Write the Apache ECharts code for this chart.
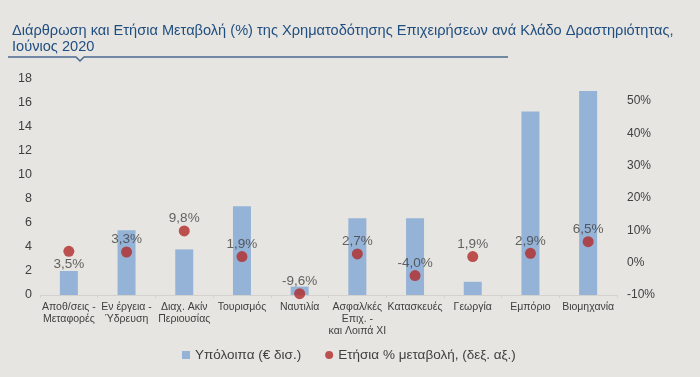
<!DOCTYPE html>
<html><head><meta charset="utf-8">
<script src="https://cdn.jsdelivr.net/npm/echarts@6/dist/echarts.min.js"></script>
<style>html,body{margin:0;padding:0;background:#e7e5e1;}#c{width:700px;height:377px;}</style>
</head><body><div id="c"></div>
<script>
var categories = ["Αποθ/σεις -\nΜεταφορές","Εν έργεια -\nΎδρευση","Διαχ. Ακίν\nΠεριουσίας","Τουρισμός","Ναυτιλία","Ασφαλ/κές\nΕπιχ. -\nκαι Λοιπά XI","Κατασκευές","Γεωργία","Εμπόριο","Βιομηχανία"];
var balances = [2.0, 5.4, 3.8, 7.4, 0.7, 6.4, 6.4, 1.1, 15.3, 17.0];
var changes = [3.5, 3.3, 9.8, 1.9, -9.6, 2.7, -4.0, 1.9, 2.9, 6.5];
var labelBelow = [true, false, false, false, false, false, false, false, false, false];
var leftTicks = [0,2,4,6,8,10,12,14,16,18];
var rightTicks = [-10,0,10,20,30,40,50];

var chart = echarts.init(document.getElementById('c'));
var txt = '#404040';
chart.setOption({
  backgroundColor: '#e7e5e1',
  animation: false,
  title: {
    text: 'Διάρθρωση και Ετήσια Μεταβολή (%) της Χρηματοδότησης Επιχειρήσεων ανά Κλάδο Δραστηριότητας,\nΙούνιος 2020',
    left: 7, top: 18,
    textStyle: {fontFamily: 'Liberation Sans, Arial', fontSize: 14.6, fontWeight: 'normal', color: '#1f4e80', lineHeight: 16}
  },
  graphic: [{
    type: 'polyline',
    shape: {points: [[8,57],[76,57],[80,61],[84,57],[508,57]]},
    style: {stroke: '#4a6a90', lineWidth: 1.5, fill: null}
  }],
  legend: {
    bottom: 10, left: 177, itemGap: 24,
    textStyle: {fontFamily: 'Liberation Sans, Arial', fontSize: 13.5, color: txt},
    data: [
      {name: 'Υπόλοιπα (€ δισ.)', icon: 'rect'},
      {name: 'Ετήσια % μεταβολή, (δεξ. αξ.)', icon: 'circle'}
    ],
    itemWidth: 8, itemHeight: 8
  },
  grid: {left: 40, right: 83, top: 79, bottom: 82},
  xAxis: {
    type: 'category', data: categories,
    axisLine: {lineStyle: {color: '#d4d2ce'}},
    axisTick: {show: true, alignWithLabel: false, lineStyle: {color: '#d4d2ce'}, length: 3},
    axisLabel: {interval: 0, color: txt, fontSize: 10.5, fontFamily: 'Liberation Sans, Arial', lineHeight: 12, margin: 6}
  },
  yAxis: [{
    type: 'value', min: 0, max: 18, interval: 2,
    splitLine: {show: false}, axisLine: {show: false}, axisTick: {show: false},
    axisLabel: {color: txt, fontSize: 12.5, fontFamily: 'Liberation Sans, Arial', margin: 8,
      formatter: function(v){ return leftTicks.indexOf(v) >= 0 ? String(v) : ''; }}
  }, {
    type: 'value', min: -10, max: 56.8, interval: 10,
    splitLine: {show: false}, axisLine: {show: false}, axisTick: {show: false},
    axisLabel: {color: txt, fontSize: 12, fontFamily: 'Liberation Sans, Arial', margin: 10, showMaxLabel: false,
      formatter: function(v){ return rightTicks.indexOf(Math.round(v*10)/10) >= 0 ? v + '%' : ''; }}
  }],
  series: [{
    name: 'Υπόλοιπα (€ δισ.)', type: 'bar', yAxisIndex: 0,
    data: balances, barWidth: 18,
    itemStyle: {color: '#95b3d7'}
  }, {
    name: 'Ετήσια % μεταβολή, (δεξ. αξ.)', type: 'scatter', yAxisIndex: 1,
    symbolSize: 11, itemStyle: {color: '#b02a2a'},
    data: changes.map(function(v, i){
      return {value: v, label: {position: labelBelow[i] ? 'bottom' : 'top'}};
    }),
    label: {show: true, color: txt, fontSize: 13.5, fontFamily: 'Liberation Sans, Arial', distance: 0,
      formatter: function(p){ return p.value.toFixed(1).replace('.', ',') + '%'; }}
  }]
});
</script></body></html>
